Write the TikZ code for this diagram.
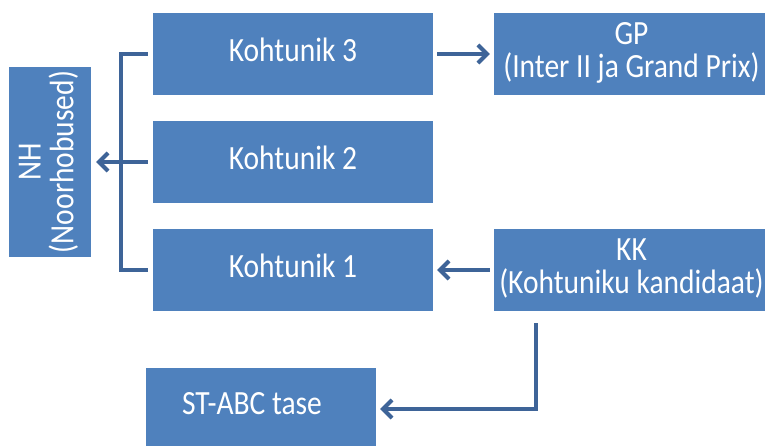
\documentclass[tikz,border=0pt]{standalone}
\usepackage{fontspec}
\setmainfont{Carlito}
\usepackage{graphicx}
\usetikzlibrary{arrows.meta}
\definecolor{boxblue}{HTML}{4F81BD}
\definecolor{lineblue}{HTML}{3E6498}
\newcommand\lbl[1]{\scalebox{1}[1.15]{\begin{tabular}{@{}c@{}}#1\end{tabular}}}
\begin{document}
\begin{tikzpicture}[x=1pt,y=-1pt,
  blk/.style={fill=boxblue, draw=none, text=white, inner sep=0pt,
    font=\fontsize{29.5}{23}\selectfont},
  conn/.style={draw=lineblue, line width=3.5pt},
  arr/.style={conn, -{Straight Barb[length=9pt,width=18pt,line width=4pt]}}]
\useasboundingbox (0,0) rectangle (765,446);
\clip (0,0) rectangle (765,446);
\node[blk, minimum width=190pt, minimum height=82pt, rotate=90] (NH) at (50,162) {\lbl{NH\\(Noorhobused)}};
\node[blk, minimum width=280pt, minimum height=82pt] (K3) at (293,54) {\lbl{Kohtunik 3}};
\node[blk, minimum width=280pt, minimum height=82pt] (K2) at (293,162) {\lbl{Kohtunik 2}};
\node[blk, minimum width=280pt, minimum height=82pt] (K1) at (293,270) {\lbl{Kohtunik 1}};
\node[blk, minimum width=275pt, minimum height=82pt] (GP) at (631.5,54) {\lbl{GP\\(Inter II ja Grand Prix)}};
\node[blk, minimum width=275pt, minimum height=82pt] (KK) at (631.5,270) {\lbl{KK\\(Kohtuniku kandidaat)}};
\node[blk, minimum width=230pt, minimum height=82pt] (ST) at (261,409) {};
\node[text=white, inner sep=0pt, font=\fontsize{29.5}{23}\selectfont] (STt) at (252,407) {\lbl{ST-ABC tase}};
\coordinate (bx) at (121,0);
\draw[conn] ([xshift=-5pt]K3.west) -- (K3.west -| bx) -- (K1.west -| bx) -- ([xshift=-5pt]K1.west);
\draw[arr] ([xshift=-5pt]K2.west) -- ([xshift=5pt]NH.south |- K2.west);
\draw[arr] ([xshift=4pt]K3.east) -- ([xshift=-4pt]GP.west);
\draw[arr] ([xshift=-4pt]KK.west) -- ([xshift=4pt]K1.east);
\coordinate (kd) at (536,323);
\draw[arr] (kd) |- ([xshift=4pt]ST.east);
\end{tikzpicture}
\end{document}
